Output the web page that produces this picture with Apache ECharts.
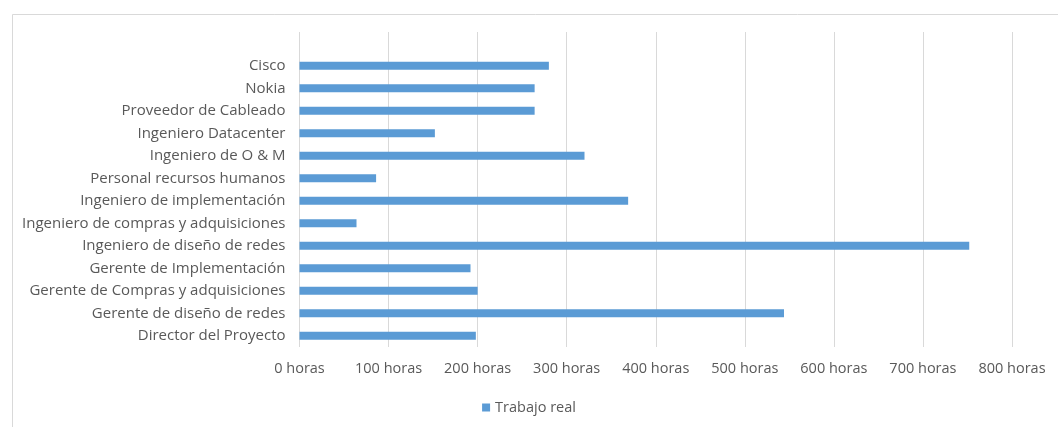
<!DOCTYPE html>
<html>
<head>
<meta charset="utf-8">
<script src="https://cdn.jsdelivr.net/npm/echarts@6/dist/echarts.min.js"></script>
<style>
  html, body { margin: 0; padding: 0; background: #ffffff; }
  #chart { width: 1058px; height: 427px; }
</style>
</head>
<body>
<div id="chart"></div>
<script>
// Roles, listed bottom to top; the trailing blank row leaves headroom above "Cisco"
const categories = [
  'Director del Proyecto',
  'Gerente de diseño de redes',
  'Gerente de Compras y adquisiciones',
  'Gerente de Implementación',
  'Ingeniero de diseño de redes',
  'Ingeniero de compras y adquisiciones',
  'Ingeniero de implementación',
  'Personal recursos humanos',
  'Ingeniero de O & M',
  'Ingeniero Datacenter',
  'Proveedor de Cableado',
  'Nokia',
  'Cisco',
  ''
];

// Actual work in hours per role
const trabajoReal = [198, 544, 200, 192, 752, 64, 369, 86, 320, 152, 264, 264, 280, null];

const seriesName = 'Trabajo real';
const axisMin = 0;
const axisMax = 800;
const axisStep = 100;

const textColor = '#595959';
const fontFamily = '"Open Sans", Lato, "Liberation Sans", sans-serif';

const chart = echarts.init(document.getElementById('chart'), null, { renderer: 'canvas' });

chart.setOption({
  animation: false,
  backgroundColor: '#ffffff',
  graphic: [{
    type: 'rect',
    left: 10, top: 12,
    shape: { x: 0, y: 0, width: 1100, height: 500 },
    style: { fill: 'none', stroke: '#d9d9d9', lineWidth: 1 },
    silent: true,
    z: -1
  }],
  grid: {
    left: 299.5,
    right: 46,
    top: 32,
    height: 315,
    containLabel: false
  },
  legend: {
    data: [seriesName],
    bottom: 7,
    left: 'center',
    icon: 'rect',
    itemWidth: 8,
    itemHeight: 8,
    itemGap: 4,
    textStyle: { color: textColor, fontSize: 14.5, fontFamily: fontFamily }
  },
  xAxis: {
    type: 'value',
    min: axisMin,
    max: axisMax,
    interval: axisStep,
    axisLine: { show: false },
    axisTick: { show: false },
    splitLine: { show: true, lineStyle: { color: '#d9d9d9', width: 1 } },
    axisLabel: {
      color: textColor,
      fontSize: 14.5,
      fontFamily: fontFamily,
      margin: 14,
      formatter: v => v + ' horas'
    }
  },
  yAxis: {
    type: 'category',
    data: categories,
    axisLine: { show: false },
    axisTick: { show: false },
    splitLine: { show: false },
    axisLabel: {
      color: textColor,
      fontSize: 15,
      fontFamily: fontFamily,
      margin: 14
    }
  },
  series: [{
    name: seriesName,
    type: 'bar',
    data: trabajoReal,
    barWidth: 8,
    itemStyle: { color: '#5b9bd5' }
  }]
});
</script>
</body>
</html>
